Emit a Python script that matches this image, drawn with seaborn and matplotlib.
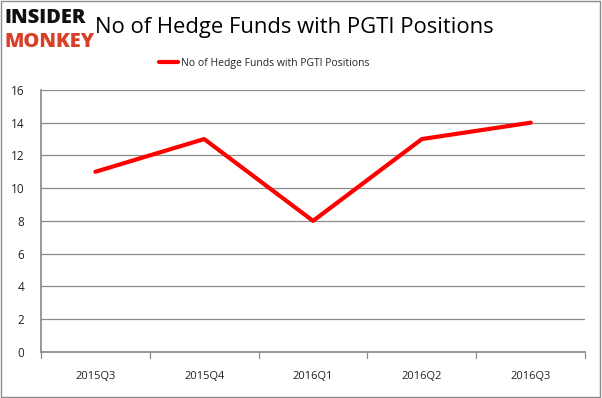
import matplotlib
matplotlib.use("Agg")
import matplotlib.pyplot as plt
import pandas as pd
import seaborn as sns

quarters = ["2015Q3", "2015Q4", "2016Q1", "2016Q2", "2016Q3"]
fund_counts = [11, 13, 8, 13, 14]
series_name = "No of Hedge Funds with PGTI Positions"
y_ticks = [0, 2, 4, 6, 8, 10, 12, 14, 16]

df = pd.DataFrame({"quarter": quarters, "funds": fund_counts})
df["pos"] = range(len(df))

sns.set_theme(style="white")
plt.rcParams["font.family"] = ["Open Sans", "DejaVu Sans"]

fig = plt.figure(figsize=(6.02, 3.98), dpi=100)
ax = fig.add_axes([0.068, 0.116, 0.904, 0.658])

sns.lineplot(data=df, x="pos", y="funds", ax=ax, color="#ff0000",
             linewidth=3, label=series_name, legend=False)

ax.set_xlim(-0.5, len(quarters) - 0.5)
ax.set_ylim(0, 16)
ax.set_yticks(y_ticks)
ax.set_yticklabels([str(v) for v in y_ticks], fontsize=8.5, color="#222222")
ax.yaxis.grid(True, color="#8c8c8c", linewidth=0.9)
ax.set_axisbelow(True)

ax.set_xticks(range(len(quarters)))
ax.set_xticklabels(quarters, fontsize=8, color="#222222")
ax.tick_params(axis="x", length=0, pad=14)
ax.tick_params(axis="y", length=4, color="#8c8c8c", direction="out", pad=8)
# boundary ticks between categories
for b in [i - 0.5 for i in range(len(quarters) + 1)]:
    ax.plot([b, b], [0, -0.35], color="#8c8c8c", linewidth=0.9, clip_on=False)

for side in ["top", "right"]:
    ax.spines[side].set_visible(False)
ax.spines["left"].set_color("#8c8c8c")
ax.spines["bottom"].set_color("#8c8c8c")
ax.set_xlabel("")
ax.set_ylabel("")

# legend
ax.legend(loc="lower center", bbox_to_anchor=(0.41, 1.045), frameon=False,
          fontsize=7.5, handlelength=1.8, handletextpad=0.3)

# title and logo
fig.text(0.157, 0.93, "No of Hedge Funds with PGTI Positions", fontsize=15.8,
         color="black", va="center", ha="left")
fig.text(0.008, 0.955, "INSIDER", fontsize=14.5, fontweight="heavy",
         color="#111111", va="center", ha="left")
fig.text(0.008, 0.895, "MONKEY", fontsize=14.5, fontweight="heavy",
         color="#d8402a", va="center", ha="left")

# figure border
fig.patches.append(plt.Rectangle((0.002, 0.003), 0.995, 0.994,
                                 transform=fig.transFigure, fill=False,
                                 edgecolor="#8c8c8c", linewidth=1))

fig.savefig("out.png", dpi=100)
